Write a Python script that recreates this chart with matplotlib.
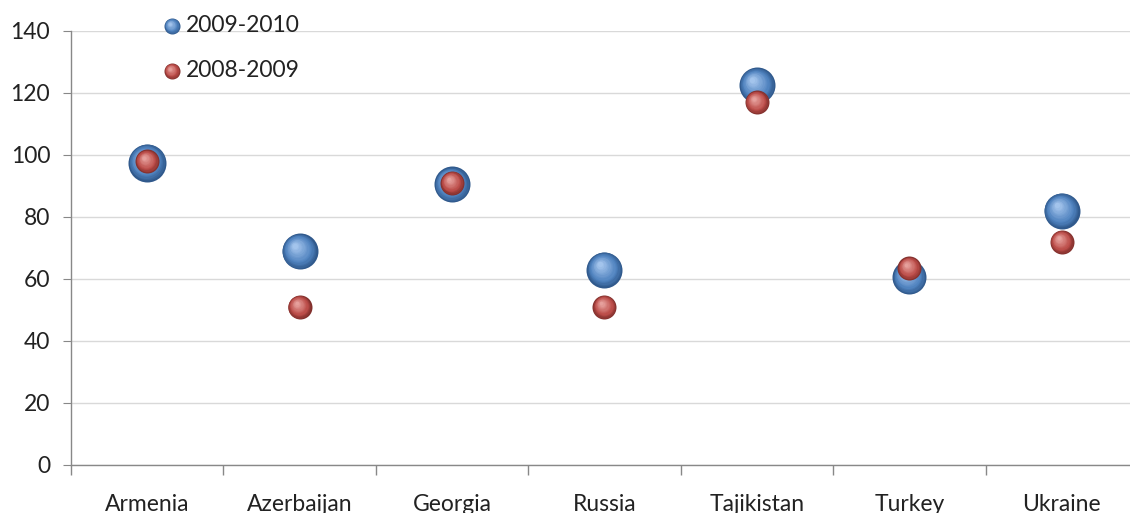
import matplotlib.pyplot as plt
import matplotlib.transforms as mtransforms
import numpy as np
from matplotlib.colors import to_rgb

countries = ['Armenia', 'Azerbaijan', 'Georgia', 'Russia', 'Tajikistan', 'Turkey', 'Ukraine']
values_0910 = [97.5, 69, 90.5, 63, 122.5, 60.5, 82]
values_0809 = [98, 51, 91, 51, 117, 63.5, 72]
size_0910 = [19, 18, 18, 18, 18, 17, 18]   # bubble radius, px
size_0809 = [12, 12, 12, 12, 12, 12, 12]
series_labels = ['2009-2010', '2008-2009']

plt.rcParams['font.family'] = ['Lato', 'DejaVu Sans']
FS = 16.5

fig = plt.figure(figsize=(11.3, 5.13), dpi=100)
ax = fig.add_axes([0.0628, 0.0936, 0.9443, 0.846])

PX2PT = 72 / fig.dpi


def mix(c1, c2, t):
    a, b = np.array(to_rgb(c1)), np.array(to_rgb(c2))
    return tuple(a + (b - a) * t)


def spheres(ax, x, y, radii, dark, mid, light, transform=None, clip=True, z=3):
    # fake a shaded ball: stack shrinking discs, shifted toward the upper left
    base = transform if transform is not None else ax.transData
    r = np.asarray(radii, dtype=float) * PX2PT
    steps = 14
    for i in range(steps):
        t = i / (steps - 1)
        k = 1 - 0.85 * t
        if t < 0.3:
            col = mix(dark, mid, t / 0.3)
        else:
            col = mix(mid, light, (t - 0.3) / 0.7)
        dx = -0.25 * t * r
        dy = 0.3 * t * r
        for xi, yi, ri, dxi, dyi in zip(np.atleast_1d(x), np.atleast_1d(y), r, dx, dy):
            tr = mtransforms.offset_copy(base, fig, x=dxi, y=dyi, units='points')
            ax.scatter([xi], [yi], s=(2 * ri * k) ** 2, color=col, linewidths=0,
                       transform=tr, clip_on=clip, zorder=z + i * 0.01)


xpos = np.arange(len(countries)) + 0.5
blue = ('#30598c', '#4f82bf', '#a3c4ec')
red = ('#82302d', '#bc4d49', '#e6a09c')

spheres(ax, xpos, values_0910, size_0910, *blue, z=3)
spheres(ax, xpos, values_0809, size_0809, *red, z=4)

ax.set_xlim(0, 7)
ax.set_ylim(0, 140)
ax.set_yticks(range(0, 141, 20))
ax.set_xticks(xpos)
ax.set_xticklabels(countries)
ax.set_xticks(range(0, 8), minor=True)
ax.tick_params(axis='x', which='major', length=0, pad=21, labelsize=FS, colors='#222222')
ax.tick_params(axis='x', which='minor', length=7, color='#888888', width=1)
ax.tick_params(axis='y', length=6, color='#888888', labelsize=FS, labelcolor='#222222', pad=9)

ax.grid(axis='y', color='#d9d9d9', linewidth=1)
ax.set_axisbelow(True)
for s in ['top', 'right']:
    ax.spines[s].set_visible(False)
for s in ['left', 'bottom']:
    ax.spines[s].set_color('#888888')
    ax.spines[s].set_linewidth(1)

# legend with the same shaded markers
leg_y = [1.0115, 0.908]
for ly, lab, pal in zip(leg_y, series_labels, [blue, red]):
    spheres(ax, [0.0947], [ly], [8], *pal, transform=ax.transAxes, clip=False, z=6)
    ax.text(0.108, ly, lab, transform=ax.transAxes, fontsize=FS, va='center',
            ha='left', color='#222222')

fig.savefig('out.png', dpi=100)
